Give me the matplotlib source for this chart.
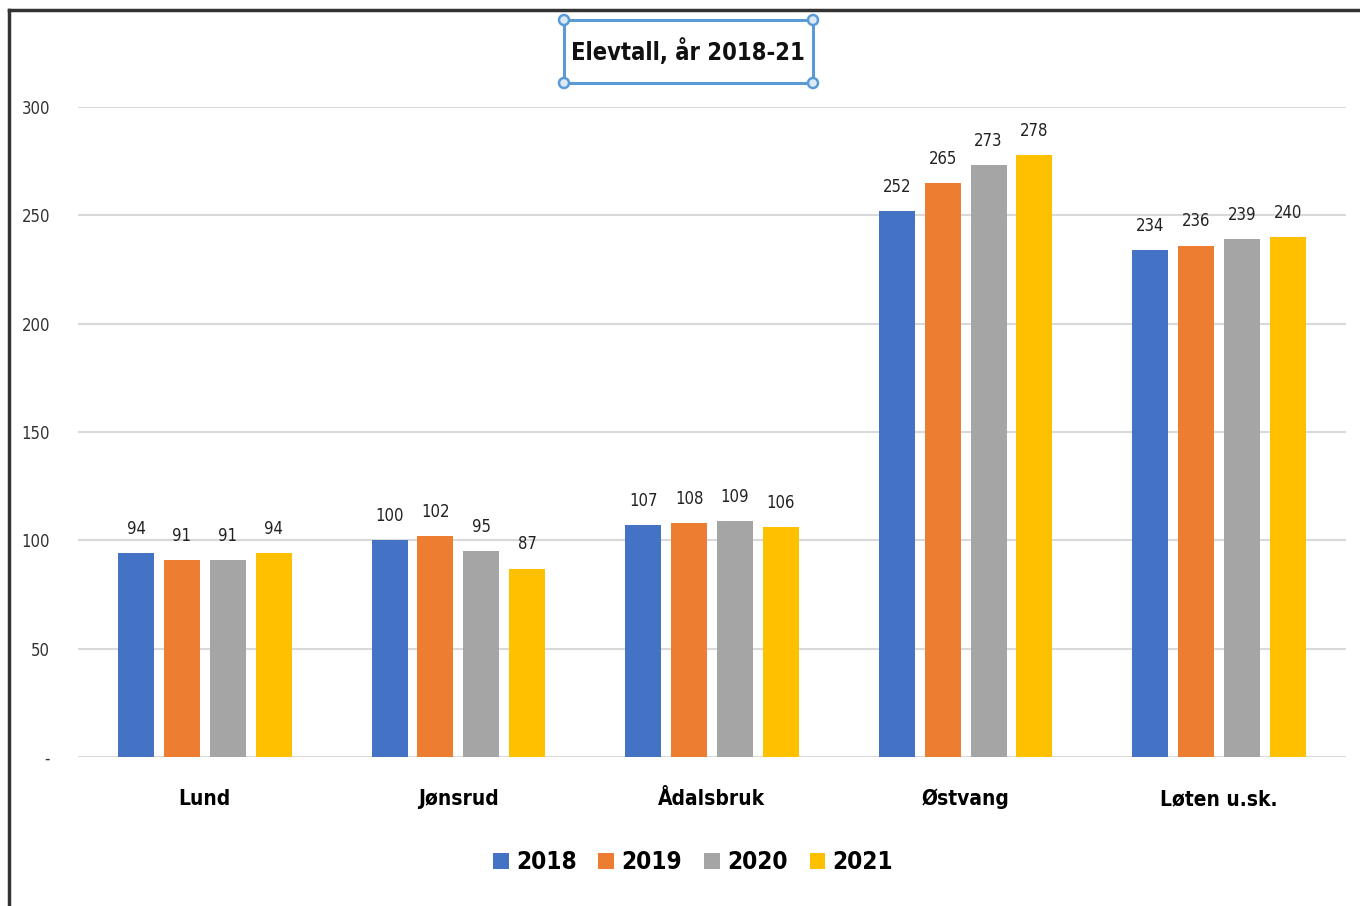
import matplotlib.pyplot as plt
from matplotlib.lines import Line2D
from matplotlib.patches import Rectangle, Circle

schools = ["Lund", "Jønsrud", "Ådalsbruk", "Østvang", "Løten u.sk."]
years = ["2018", "2019", "2020", "2021"]
v2018 = [94, 100, 107, 252, 234]
v2019 = [91, 102, 108, 265, 236]
v2020 = [91, 95, 109, 273, 239]
v2021 = [94, 87, 106, 278, 240]
colors = ["#4472C4", "#ED7D31", "#A5A5A5", "#FFC000"]

plt.rcParams["font.family"] = ["DejaVu Sans"]
plt.rcParams["font.stretch"] = "condensed"

fig = plt.figure(figsize=(13.6, 9.06), dpi=100)
ax = fig.add_axes([78 / 1360, 1 - 757 / 906, (1346 - 78) / 1360, 650 / 906])

series = [v2018, v2019, v2020, v2021]
pitch = 0.181
width = 0.142
for i, (vals, year) in enumerate(zip(series, years)):
    xs = [k + (i - 1.5) * pitch for k in range(len(schools))]
    bars = ax.bar(xs, vals, width=width, color=colors[i], label=year, zorder=3)
    for b, v in zip(bars, vals):
        ax.text(b.get_x() + b.get_width() / 2, v + 7, str(v), ha="center",
                va="bottom", fontsize=12, color="#222222")

ax.set_xlim(-0.5, len(schools) - 0.5)
ax.set_ylim(0, 300)
ax.set_yticks([0, 50, 100, 150, 200, 250, 300])
ax.set_yticklabels(["-", "50", "100", "150", "200", "250", "300"])
ax.set_xticks(range(len(schools)))
ax.set_xticklabels(schools, fontsize=15, fontweight="bold")
ax.tick_params(axis="y", length=0, pad=20, labelsize=12, colors="#333333")
ax.tick_params(axis="x", length=0, pad=23)
ax.grid(axis="y", color="#d9d9d9", linewidth=1.5, zorder=0)
for s in ax.spines.values():
    s.set_visible(False)

leg = ax.legend(loc="center", bbox_to_anchor=(0.485, -0.162), ncol=4, frameon=False,
                handlelength=0.65, handleheight=0.65, handletextpad=0.3,
                columnspacing=0.9, prop={"size": 17.5, "weight": "bold", "stretch": "condensed"})

# title with selection box
fig.text(688 / 1360, 1 - 52 / 906, "Elevtall, år 2018-21", ha="center", va="center",
         fontsize=17, fontweight="bold", color="#111111")
fig.add_artist(Rectangle((564 / 1360, 1 - 83 / 906), 249 / 1360, 63 / 906,
                         transform=fig.transFigure, fill=False,
                         edgecolor="#5b9bd5", linewidth=2.2))
for hx, hy in [(564, 20), (813, 20), (564, 83), (813, 83)]:
    fig.add_artist(Circle((hx, 906 - hy), 5, transform=None, facecolor="#dce9f7",
                          edgecolor="#5b9bd5", linewidth=1.8))

# outer frame
fig.add_artist(Line2D([9 / 1360, 1], [1 - 10 / 906, 1 - 10 / 906],
                      transform=fig.transFigure, color="#333333", linewidth=2.5))
fig.add_artist(Line2D([9 / 1360, 9 / 1360], [0, 1 - 10 / 906],
                      transform=fig.transFigure, color="#333333", linewidth=2.5))

fig.savefig("out.png", dpi=100)
